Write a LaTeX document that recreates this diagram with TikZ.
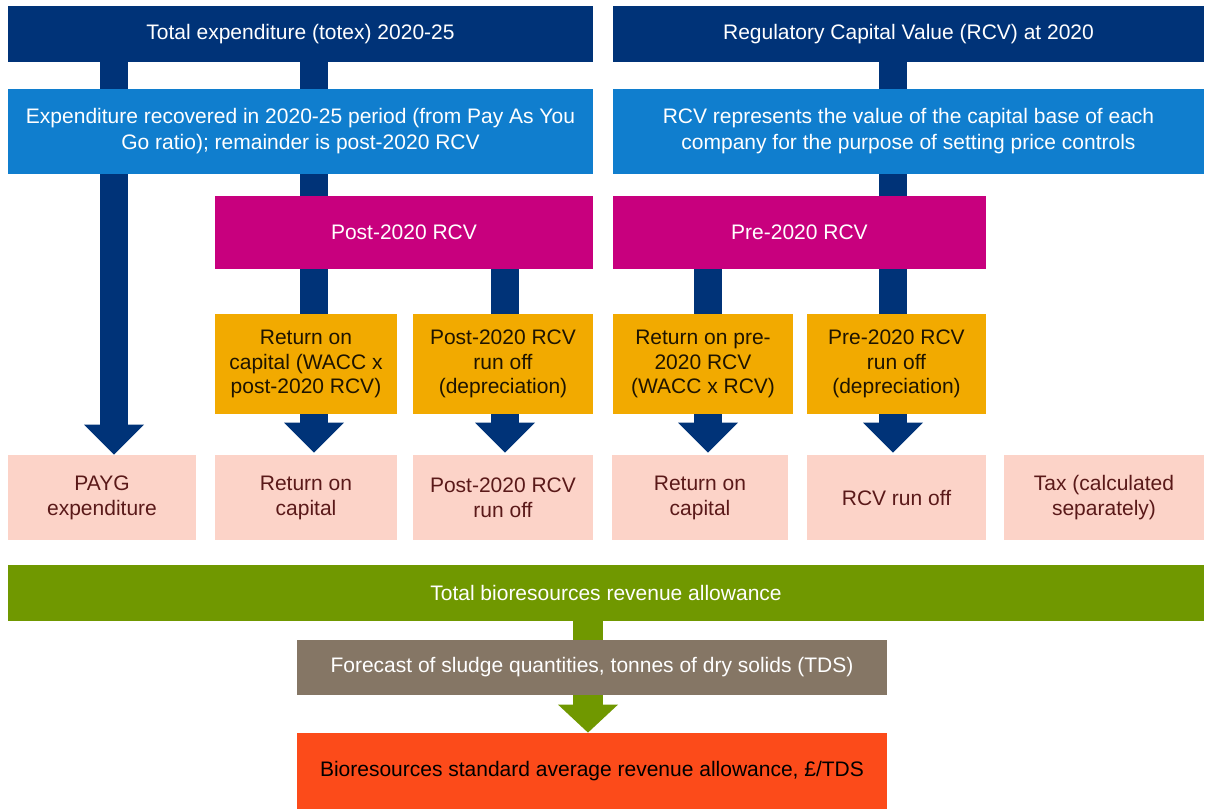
\documentclass[tikz,border=0pt]{standalone}
\usepackage{fontspec}
\setmainfont{Liberation Sans}
\usetikzlibrary{arrows.meta,backgrounds}
\definecolor{navy}{RGB}{0,51,120}
\definecolor{lblue}{RGB}{16,126,206}
\definecolor{mag}{RGB}{200,0,126}
\definecolor{orng}{RGB}{242,170,0}
\definecolor{pnk}{RGB}{252,211,200}
\definecolor{grn}{RGB}{112,152,0}
\definecolor{gry}{RGB}{133,118,101}
\definecolor{redor}{RGB}{252,75,26}
\definecolor{pnktext}{RGB}{90,25,25}
\definecolor{orngtext}{RGB}{30,20,0}
\begin{document}
\begin{tikzpicture}[x=0.5pt,y=-0.5pt,
  box/.style={inner sep=0pt,align=center,font=\fontsize{10.5}{13}\selectfont},
  navybox/.style={box,fill=navy,text=white},
  bluebox/.style={box,fill=lblue,text=white},
  magbox/.style={box,fill=mag,text=white},
  orbox/.style={box,fill=orng,text=orngtext,font=\fontsize{10.5}{12.3}\selectfont,minimum height=50pt},
  pkbox/.style={box,fill=pnk,text=pnktext,font=\fontsize{10.5}{12.5}\selectfont,minimum height=42.5pt},
  shaft/.style={draw=navy,line width=14pt},
  tipar/.style={shaft,-{Triangle[length=15pt,width=30pt,line width=0pt]}},
  gshaft/.style={draw=grn,line width=15pt},
  gtip/.style={gshaft,-{Triangle[length=14pt,width=30pt,line width=0pt]}}]
\useasboundingbox (0,0) rectangle (1206,809);
% boxes
\node[navybox,minimum width=292.5pt,minimum height=28pt] (tot) at (300.5,34) {Total expenditure (totex) 2020-25};
\node[navybox,minimum width=295.5pt,minimum height=28pt] (rcv) at (908.5,34) {Regulatory Capital Value (RCV) at 2020};
\node[bluebox,minimum width=292.5pt,minimum height=42.5pt] (exp) at (300.5,131.5) {Expenditure recovered in 2020-25 period (from Pay As You\\Go ratio); remainder is post-2020 RCV};
\node[bluebox,minimum width=295.5pt,minimum height=42.5pt] (rcvd) at (908.5,131.5) {RCV represents the value of the capital base of each\\company for the purpose of setting price controls};
\node[magbox,minimum width=189pt,minimum height=36.5pt] (post) at (404,232.5) {Post-2020 RCV};
\node[magbox,minimum width=186.5pt,minimum height=36.5pt] (pre) at (799.5,232.5) {Pre-2020 RCV};
\node[orbox,minimum width=91pt] (o1) at (306,364) {Return on\\capital (WACC x\\post-2020 RCV)};
\node[orbox,minimum width=90pt] (o2) at (503,364) {Post-2020 RCV\\run off\\(depreciation)};
\node[orbox,minimum width=90pt] (o3) at (703,364) {Return on pre-\\2020 RCV\\(WACC x RCV)};
\node[orbox,minimum width=89.5pt] (o4) at (896.5,364) {Pre-2020 RCV\\run off\\(depreciation)};
\node[pkbox,minimum width=94pt] (p1) at (102,497.5) {PAYG\\expenditure};
\node[pkbox,minimum width=91pt] (p2) at (306,497.5) {Return on\\capital};
\node[pkbox,minimum width=90pt] (p3) at (503,497.5) {Post-2020 RCV\\run off};
\node[pkbox,minimum width=88pt] (p4) at (700,497.5) {Return on\\capital};
\node[pkbox,minimum width=89.5pt] (p5) at (896.5,497.5) {RCV run off};
\node[pkbox,minimum width=100pt] (p6) at (1104,497.5) {Tax (calculated\\separately)};
\node[box,fill=grn,text=white,minimum width=598pt,minimum height=28pt] (green) at (606,593) {Total bioresources revenue allowance};
\node[box,fill=gry,text=white,minimum width=295pt,minimum height=27.5pt] (grey) at (592,667.5) {Forecast of sludge quantities, tonnes of dry solids (TDS)};
\node[box,fill=redor,text=black,minimum width=295pt,minimum height=38pt] (red) at (592,771) {Bioresources standard average revenue allowance, £/TDS};
% column coordinates
\coordinate (xa) at (114,0);
\coordinate (xb) at (314,0);
\coordinate (xc) at (505,0);
\coordinate (xd) at (708,0);
\coordinate (xe) at (893,0);
\coordinate (xg) at (588,0);
\begin{scope}[on background layer]
\draw[tipar] (xa |- tot.south) -- (xa |- p1.north);
\draw[shaft] (xb |- tot.south) -- (xb |- o1.north);
\draw[shaft] (xc |- post.south) -- (xc |- o2.north);
\draw[shaft] (xe |- rcv.south) -- (xe |- o4.north);
\draw[shaft] (xd |- pre.south) -- (xd |- o3.north);
\draw[tipar] (xb |- o1.south) -- ([yshift=1pt]xb |- p2.north);
\draw[tipar] (xc |- o2.south) -- ([yshift=1pt]xc |- p3.north);
\draw[tipar] (xd |- o3.south) -- ([yshift=1pt]xd |- p4.north);
\draw[tipar] (xe |- o4.south) -- ([yshift=1pt]xe |- p5.north);
\draw[gshaft] (xg |- green.south) -- (xg |- grey.north);
\draw[gtip] (xg |- grey.south) -- (xg |- red.north);
\end{scope}
\end{tikzpicture}
\end{document}
